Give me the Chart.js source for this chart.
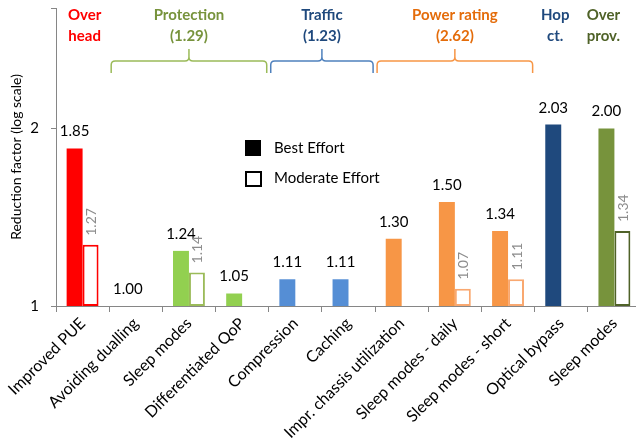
<!DOCTYPE html>
<html><head><meta charset="utf-8">
<script src="https://cdn.jsdelivr.net/npm/chart.js@4/dist/chart.umd.min.js"></script>
<style>html,body{margin:0;padding:0;overflow:hidden;background:#fff;width:636px;height:448px}canvas{display:block}</style>
</head><body>
<canvas id="c" width="641" height="448"></canvas>
<script>
const categories = ['Improved PUE', 'Avoiding dualling', 'Sleep modes', 'Differentiated QoP', 'Compression', 'Caching', 'Impr. chassis utilization', 'Sleep modes - daily', 'Sleep modes - short', 'Optical bypass', 'Sleep modes'];
const bestEffort = [1.85, 1.00, 1.24, 1.05, 1.11, 1.11, 1.30, 1.50, 1.34, 2.03, 2.00];
const moderateEffort = [1.27, null, 1.14, null, null, null, null, 1.07, 1.11, null, 1.34];
const yTickValues = [1, 2, 3.2];
const yTickLabels = ['1', '2', ''];
const groupNames = [['Over', 'head'], ['Protection', '(1.29)'], ['Traffic', '(1.23)'], ['Power rating', '(2.62)'], ['Hop', 'ct.'], ['Over', 'prov.']];
const groupFrom = [0, 1, 4, 6, 9, 10];
const groupTo = [0, 3, 5, 8, 9, 10];
const seriesNames = ['Best Effort', 'Moderate Effort'];

const groupText = ['#FF0000', '#77933C', '#1F497D', '#E46C0A', '#1F497D', '#4F6228'];
const groupBrace = [null, '#9BBB59', '#4F81BD', '#F79646', null, null];
const groupShift = [2, 0, 0, 0, -6, -11];
const catGroup = i => groupFrom.findIndex((f, g) => i >= f && i <= groupTo[g]);
const fillCols = ['#FF0000', '#92D050', '#558ED5', '#F79646', '#1F497D', '#77933C'];
const lineCols = ['#FF0000', '#9BBB59', '#558ED5', '#F9A870', '#1F497D', '#4F6228'];
const FONT = 'Lato, "Liberation Sans", sans-serif';

const overlay = {
  id: 'overlay',
  afterDatasetsDraw(chart) {
    const ctx = chart.ctx;
    ctx.save();
    const m0 = chart.getDatasetMeta(0), m1 = chart.getDatasetMeta(1);
    ctx.font = '15px ' + FONT;
    ctx.fillStyle = '#000';
    ctx.textAlign = 'center';
    ctx.textBaseline = 'alphabetic';
    m0.data.forEach((b, i) => {
      ctx.fillText(bestEffort[i].toFixed(2), b.x, b.y - 12);
    });
    ctx.font = '14px ' + FONT;
    ctx.fillStyle = '#8C8C8C';
    ctx.textAlign = 'left';
    ctx.textBaseline = 'middle';
    m1.data.forEach((b, i) => {
      if (moderateEffort[i] == null) return;
      ctx.save();
      ctx.translate(b.x + 1, b.y - 9);
      ctx.rotate(-Math.PI / 2);
      ctx.fillText(moderateEffort[i].toFixed(2), 0, 0);
      ctx.restore();
    });
    ctx.restore();
  },
  afterDraw(chart) {
    const ctx = chart.ctx;
    const x = chart.scales.x;
    const half = (x.getPixelForValue(1) - x.getPixelForValue(0)) / 2;
    ctx.save();
    groupNames.forEach((lines, g) => {
      const L = x.getPixelForValue(groupFrom[g]) - half;
      const R = x.getPixelForValue(groupTo[g]) + half;
      const cx = (L + R) / 2 + groupShift[g];
      ctx.font = 'bold 15px ' + FONT;
      ctx.fillStyle = groupText[g];
      ctx.textAlign = 'center';
      ctx.textBaseline = 'middle';
      ctx.fillText(lines[0], cx, 15);
      ctx.fillText(lines[1], cx, 36);
      if (groupBrace[g]) {
        const l = L + 2, r = R - 2, m = (l + r) / 2, yH = 61, yE = 73, yN = 49, rr = 4;
        ctx.strokeStyle = groupBrace[g];
        ctx.lineWidth = 1.5;
        ctx.beginPath();
        ctx.moveTo(l, yE);
        ctx.lineTo(l, yH + rr);
        ctx.quadraticCurveTo(l, yH, l + rr, yH);
        ctx.lineTo(m - rr, yH);
        ctx.quadraticCurveTo(m, yH, m, yH - rr);
        ctx.lineTo(m, yN);
        ctx.moveTo(m, yH - rr);
        ctx.quadraticCurveTo(m, yH, m + rr, yH);
        ctx.lineTo(r - rr, yH);
        ctx.quadraticCurveTo(r, yH, r, yH + rr);
        ctx.lineTo(r, yE);
        ctx.stroke();
      }
    });
    ctx.fillStyle = '#000';
    ctx.fillRect(245, 140, 16, 16);
    ctx.strokeStyle = '#000';
    ctx.lineWidth = 2;
    ctx.strokeRect(246, 172, 15, 14);
    ctx.font = '15px ' + FONT;
    ctx.textAlign = 'left';
    ctx.textBaseline = 'middle';
    ctx.fillText(seriesNames[0], 274, 148);
    ctx.fillText(seriesNames[1], 274, 178);
    ctx.restore();
  }
};

new Chart(document.getElementById('c'), {
  type: 'bar',
  data: {
    labels: categories,
    datasets: [
      {
        label: seriesNames[0],
        data: bestEffort,
        backgroundColor: categories.map((_, i) => fillCols[catGroup(i)]),
        borderWidth: 0,
        categoryPercentage: 0.6,
        barPercentage: 1.0
      },
      {
        label: seriesNames[1],
        data: moderateEffort,
        backgroundColor: '#FFFFFF',
        borderColor: categories.map((_, i) => lineCols[catGroup(i)]),
        borderWidth: 2,
        borderSkipped: false,
        categoryPercentage: 0.6,
        barPercentage: 1.0
      }
    ]
  },
  options: {
    responsive: false,
    animation: false,
    devicePixelRatio: 1,
    layout: { padding: { top: 8, right: 0, left: 0, bottom: 0 } },
    plugins: { legend: { display: false }, tooltip: { enabled: false } },
    scales: {
      x: {
        type: 'category',
        offset: true,
        grid: { display: true, offset: true, drawOnChartArea: false, drawTicks: true, tickLength: 6, color: '#868686' },
        border: { display: true, color: '#868686', width: 1 },
        ticks: { color: '#000', font: { size: 16, family: FONT }, minRotation: 45, maxRotation: 45, autoSkip: false, padding: 2 },
        afterFit(s) { s.height = 142; s.paddingLeft = 0; s.paddingRight = 0; }
      },
      y: {
        type: 'logarithmic',
        min: 1,
        max: 3.2,
        grid: { display: true, drawOnChartArea: false, drawTicks: true, tickLength: 5, color: '#868686' },
        border: { display: true, color: '#868686', width: 1 },
        ticks: {
          color: '#000', font: { size: 15, family: FONT }, padding: 12,
          callback: (v) => { const k = yTickValues.indexOf(v); return k >= 0 ? yTickLabels[k] : ''; }
        },
        afterBuildTicks(s) { s.ticks = yTickValues.map(v => ({ value: v })); },
        title: { display: true, text: 'Reduction factor (log scale)', color: '#000', font: { size: 14, family: FONT }, padding: { top: 8, bottom: 0 } },
        afterFit(s) { s.width = 56; s.paddingTop = 0; s.paddingBottom = 0; }
      }
    }
  },
  plugins: [overlay]
});
</script>
</body></html>
